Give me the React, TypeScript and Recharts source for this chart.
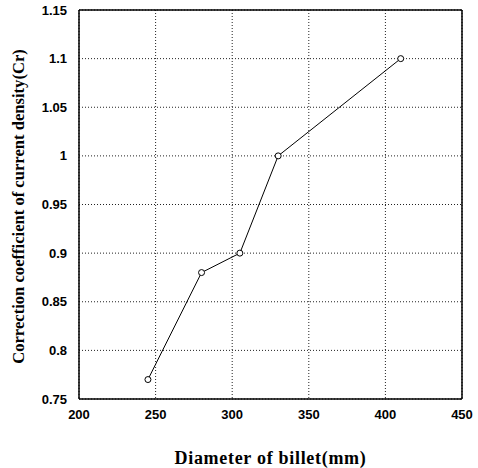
import React from "react";
import { LineChart, Line, XAxis, YAxis, CartesianGrid, ReferenceLine } from "recharts";

// Diameter of billet (mm) vs correction coefficient Cr
const diameters = [245, 280, 305, 330, 410];
const coefficients = [0.77, 0.88, 0.9, 1.0, 1.1];

const xTicks = [200, 250, 300, 350, 400, 450];
const yTicks = [0.75, 0.8, 0.85, 0.9, 0.95, 1, 1.05, 1.1, 1.15];

const data = diameters.map((d, i) => ({ d, cr: coefficients[i] }));

const tickStyle = {
  fontFamily: "'Liberation Sans', Arial, sans-serif",
  fontSize: 13,
  fontWeight: 700,
  fill: "#000",
};

const labelFont = "'Liberation Serif', 'Times New Roman', serif";

const App = () => {
  return (
    <div style={{ position: "absolute", left: 0, top: 0 }}>
      <LineChart
        width={478}
        height={468}
        data={data}
        margin={{ top: 10, right: 16, left: 0, bottom: 0 }}
      >
        <CartesianGrid stroke="#222" strokeDasharray="1 2" />
        <XAxis
          dataKey="d"
          type="number"
          domain={[200, 450]}
          ticks={xTicks}
          height={69}
          tickLine={false}
          tickSize={0}
          tickMargin={11}
          tick={tickStyle}
          axisLine={{ stroke: "#000", strokeWidth: 1.5 }}
          label={{
            value: "Diameter of billet(mm)",
            position: "insideBottom",
            offset: 4,
            style: { fontFamily: labelFont, fontSize: 18, fontWeight: 700, letterSpacing: 0.7, fill: "#000" },
          }}
        />
        <YAxis
          type="number"
          domain={[0.75, 1.15]}
          ticks={yTicks}
          width={79}
          tickLine={false}
          tickSize={0}
          tickMargin={12}
          tick={tickStyle}
          axisLine={{ stroke: "#000", strokeWidth: 1.5 }}
          label={{
            value: "Correction coefficient of current density(Cr)",
            angle: -90,
            position: "insideLeft",
            offset: 18,
            dy: 2,
            style: { fontFamily: labelFont, fontSize: 16.6, fontWeight: 700, fill: "#000", textAnchor: "middle" },
          }}
        />
        <ReferenceLine x={450} stroke="#000" strokeWidth={1.5} />
        <ReferenceLine y={1.15} stroke="#000" strokeWidth={1.5} />
        <Line
          dataKey="cr"
          stroke="#000"
          strokeWidth={1}
          dot={{ r: 3, fill: "#fff", stroke: "#000", strokeWidth: 1 }}
          isAnimationActive={false}
        />
      </LineChart>
    </div>
  );
};

export default App;
